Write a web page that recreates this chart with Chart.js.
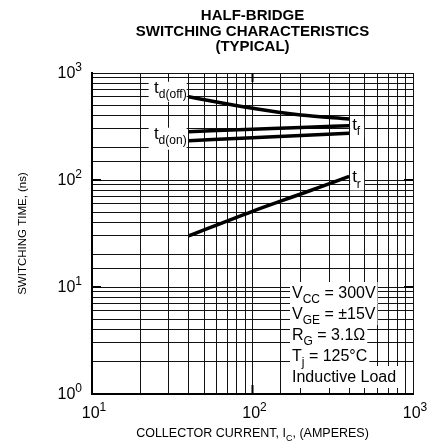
<!DOCTYPE html>
<html>
<head>
<meta charset="utf-8">
<script src="https://cdn.jsdelivr.net/npm/chart.js@4"></script>
<style>
  html, body { margin: 0; padding: 0; background: #fff; }
  #wrap { width: 439px; height: 444px; }
</style>
</head>
<body>
<div id="wrap"><canvas id="chart" width="439" height="444"></canvas></div>
<script>
// collector current (A) where the curves are read
var currents = [40, 100, 200, 400];
// switching times (ns)
var tdOff = [600, 468, 405, 372];
var tF = [283, 298, 310, 322];
var tdOn = [233, 248, 260, 273];
var tR = [30, 51, 74, 108];

// axis decades
var xDecades = [10, 100, 1000];
var yDecades = [1, 10, 100, 1000];

var titleLines = ["HALF-BRIDGE", "SWITCHING CHARACTERISTICS", "(TYPICAL)"];
var conditions = [
  [["V", 0], ["CC", 1], [" = 300V", 0]],
  [["V", 0], ["GE", 1], [" = \u00b115V", 0]],
  [["R", 0], ["G", 1], [" = 3.1\u03a9", 0]],
  [["T", 0], ["j", 1], [" = 125\u00b0C", 0]],
  [["Inductive Load", 0]]
];

var FONT = "'Liberation Sans', Arial, Helvetica, sans-serif";

function pts(ys) {
  return currents.map(function(c, i) { return { x: c, y: ys[i] }; });
}

// text made of pieces: [text, kind] kind 0 normal, 1 subscript, 2 superscript
function richWidth(ctx, parts, size) {
  var w = 0;
  parts.forEach(function(p) {
    ctx.font = (p[1] ? Math.round(size * 0.72) : size) + "px " + FONT;
    w += ctx.measureText(p[0]).width;
  });
  return w;
}
function drawRich(ctx, parts, x, y, size) {
  parts.forEach(function(p) {
    var s = p[1] ? Math.round(size * 0.72) : size;
    var dy = p[1] === 1 ? size * 0.3 : (p[1] === 2 ? -size * 0.42 : 0);
    ctx.font = s + "px " + FONT;
    ctx.fillText(p[0], x, y + dy);
    x += ctx.measureText(p[0]).width;
  });
}

var decor = {
  id: "decor",
  beforeDraw: function(chart) {
    var ctx = chart.ctx;
    ctx.save();
    ctx.fillStyle = "#fff";
    ctx.fillRect(0, 0, chart.width, chart.height);
    ctx.restore();
  },
  beforeDatasetsDraw: function(chart) {
    var ctx = chart.ctx, a = chart.chartArea;
    var xs = chart.scales.x, ys = chart.scales.y;
    ctx.save();
    ctx.fillStyle = "#fff";
    // white patches behind curve labels
    var x0 = xs.getPixelForValue(currents[0]);
    var x1 = xs.getPixelForValue(currents[currents.length - 1]);
    ctx.fillRect(x0 - 40, ys.getPixelForValue(tdOff[0]) - 15, 38, 20);
    ctx.fillRect(x0 - 40, ys.getPixelForValue(tdOn[0]) - 13, 38, 22);
    ctx.fillRect(x1 + 1, ys.getPixelForValue(tF[3]) - 8, 14, 20);
    ctx.fillRect(x1 + 1, ys.getPixelForValue(tR[3]) - 6, 14, 20);
    // white patches behind conditions
    conditions.forEach(function(line, i) {
      var w = richWidth(ctx, line, 16);
      var by = a.bottom - 12 - 21 * (conditions.length - 1 - i);
      ctx.fillRect(a.right - 123, by - 16, w + 4, 22);
    });
    ctx.restore();

    // inward major ticks
    ctx.save();
    ctx.strokeStyle = "#000";
    ctx.lineWidth = 2;
    ctx.beginPath();
    yDecades.slice(1, -1).forEach(function(v) {
      var y = ys.getPixelForValue(v);
      ctx.moveTo(a.left, y); ctx.lineTo(a.left + 9, y);
      ctx.moveTo(a.right, y); ctx.lineTo(a.right - 9, y);
    });
    xDecades.slice(1, -1).forEach(function(v) {
      var x = xs.getPixelForValue(v);
      ctx.moveTo(x, a.top); ctx.lineTo(x, a.top + 9);
      ctx.moveTo(x, a.bottom); ctx.lineTo(x, a.bottom - 9);
    });
    ctx.stroke();
    ctx.restore();
  },
  afterDraw: function(chart) {
    var ctx = chart.ctx, a = chart.chartArea;
    var xs = chart.scales.x, ys = chart.scales.y;
    ctx.save();
    ctx.fillStyle = "#000";
    ctx.textBaseline = "alphabetic";

    // title
    ctx.textAlign = "center";
    ctx.font = "bold 15px " + FONT;
    var cx = (a.left + a.right) / 2;
    titleLines.forEach(function(t, i) { ctx.fillText(t, cx, 20 + i * 15.5); });
    ctx.textAlign = "left";

    // tick labels 10^n
    xDecades.forEach(function(v) {
      var parts = [["10", 0], [String(Math.round(Math.log10(v))), 2]];
      var w = richWidth(ctx, parts, 16);
      drawRich(ctx, parts, xs.getPixelForValue(v) - w / 2 + 2, a.bottom + 24, 16);
    });
    yDecades.forEach(function(v) {
      var parts = [["10", 0], [String(Math.round(Math.log10(v))), 2]];
      var w = richWidth(ctx, parts, 16);
      drawRich(ctx, parts, a.left - 10 - w, ys.getPixelForValue(v) + 5, 16);
    });

    // axis titles
    var xt = [["COLLECTOR CURRENT, I", 0], ["C", 1], [", (AMPERES)", 0]];
    var xw = richWidth(ctx, xt, 12.5);
    drawRich(ctx, xt, cx - xw / 2, a.bottom + 43, 12.5);
    ctx.save();
    ctx.translate(26, (a.top + a.bottom) / 2);
    ctx.rotate(-Math.PI / 2);
    ctx.textAlign = "center";
    ctx.font = "11.5px " + FONT;
    ctx.fillText("SWITCHING TIME, (ns)", 0, 0);
    ctx.restore();

    // curve labels
    var x0 = xs.getPixelForValue(currents[0]);
    var x1 = xs.getPixelForValue(currents[currents.length - 1]);
    var lab1 = [["t", 0], ["d(off)", 1]];
    drawRich(ctx, lab1, x0 - 2 - richWidth(ctx, lab1, 17), ys.getPixelForValue(tdOff[0]) - 4, 17);
    var lab2 = [["t", 0], ["d(on)", 1]];
    drawRich(ctx, lab2, x0 - 2 - richWidth(ctx, lab2, 17), ys.getPixelForValue(tdOn[0]) - 2, 17);
    drawRich(ctx, [["t", 0], ["f", 1]], x1 + 3, ys.getPixelForValue(tF[3]) + 4, 17);
    drawRich(ctx, [["t", 0], ["r", 1]], x1 + 3, ys.getPixelForValue(tR[3]) + 6, 17);

    // test conditions
    conditions.forEach(function(line, i) {
      var by = a.bottom - 12 - 21 * (conditions.length - 1 - i);
      drawRich(ctx, line, a.right - 121, by, 16);
    });
    ctx.restore();
  }
};

function series(ys) {
  return {
    data: pts(ys),
    borderColor: "#000",
    borderWidth: 3.5,
    pointRadius: 0,
    fill: false,
    cubicInterpolationMode: "monotone"
  };
}

var ctx = document.getElementById("chart").getContext("2d");
var chart = new Chart(ctx, {
  type: "line",
  data: {
    datasets: [series(tdOff), series(tF), series(tdOn), series(tR)]
  },
  options: {
    responsive: false,
    animation: false,
    layout: { padding: { left: 92, top: 73, right: 26, bottom: 50 } },
    plugins: { legend: { display: false }, tooltip: { enabled: false } },
    scales: {
      x: {
        type: "logarithmic",
        min: 10, max: 1000,
        ticks: { display: false },
        grid: { color: "#111", lineWidth: 1, drawTicks: false },
        border: { color: "#000", width: 2 }
      },
      y: {
        type: "logarithmic",
        min: 1, max: 1000,
        ticks: { display: false },
        grid: { color: "#111", lineWidth: 1, drawTicks: false },
        border: { color: "#000", width: 2 }
      }
    }
  },
  plugins: [decor]
});
</script>
</body>
</html>
